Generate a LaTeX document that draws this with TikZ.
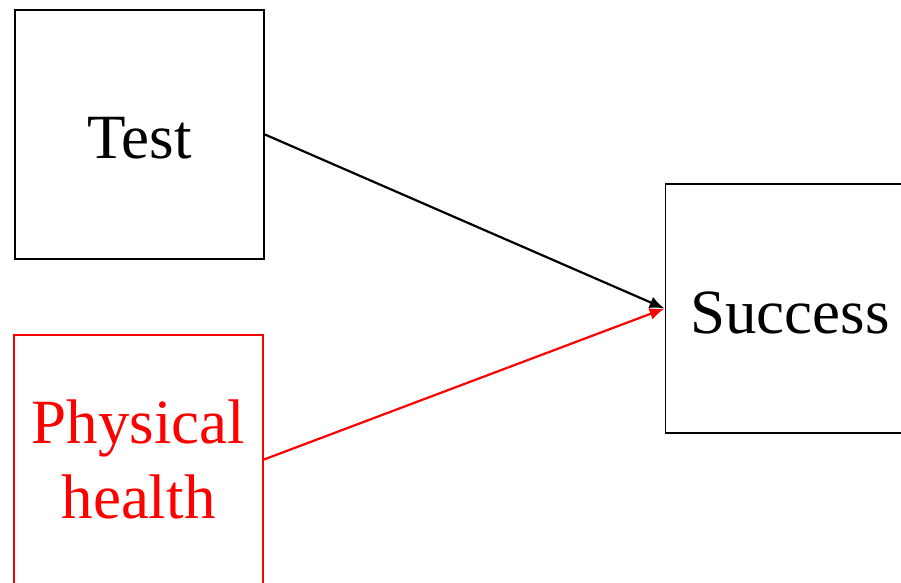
\documentclass[tikz,border=0pt]{standalone}
\usepackage{fontspec}
\setmainfont{Liberation Serif}
\usetikzlibrary{arrows.meta}
% lower the text inside a box while keeping its measured size
\newcommand{\lowertext}[2]{\raisebox{-#1}[\height][\depth]{#2}}
\begin{document}
\begin{tikzpicture}[x=1pt,y=-1pt,
  varbox/.style={draw, line width=1.9pt, minimum width=249pt, minimum height=249pt,
    inner sep=0pt, font=\fontsize{63}{75}\selectfont},
  link/.style={line width=2.2pt, -{Latex[length=15pt,width=12pt]}}]
  \clip (0,0) rectangle (901,582);
  \useasboundingbox (0,0) rectangle (901,582);
  \node[varbox] (test) at (139.5,134.5) {\lowertext{4pt}{Test}};
  \node[varbox, draw=red, text=red] (health) at (138.5,459.5)
    {\lowertext{6pt}{\begin{tabular}{@{}c@{}}Physical\\health\end{tabular}}};
  \node[varbox] (success) at (790,308.5) {\lowertext{4pt}{Success}};
  \draw[link] (test.east) -- (success.west);
  \draw[link, red] (health.east) -- (success.west);
\end{tikzpicture}
\end{document}
